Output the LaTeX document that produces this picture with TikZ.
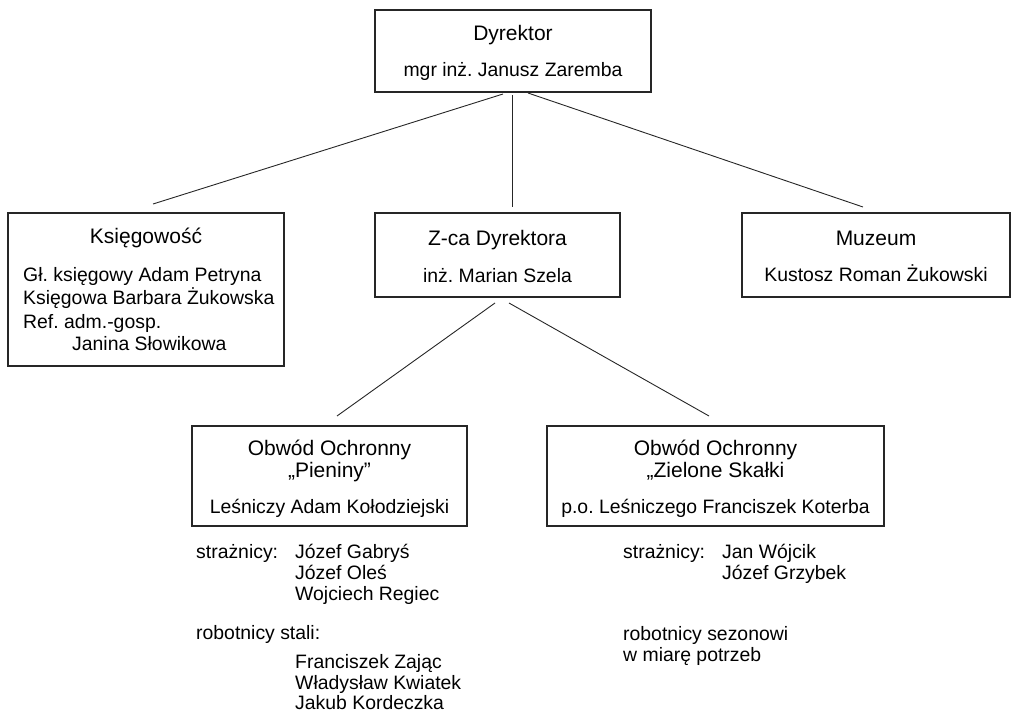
\documentclass[tikz,border=0pt]{standalone}
\usepackage{fontspec}
\setmainfont{Liberation Sans}
\frenchspacing
\begin{document}
\begin{tikzpicture}[x=1pt,y=-1pt,
  box/.style={draw=black!85, line width=1.2pt, rectangle, inner sep=0pt},
  conn/.style={draw=black!85, line width=0.9pt},
  txt/.style={inner sep=0pt, anchor=base, font=\fontsize{19.4}{22}\selectfont},
  head/.style={txt, font=\fontsize{21}{24}\selectfont},
  ltxt/.style={txt, anchor=base west}]
\useasboundingbox (0,0) rectangle (1011,712);

% boxes
\node[box, minimum width=276pt, minimum height=82pt] (dir) at (513,51) {};
\node[box, minimum width=276pt, minimum height=153pt] (ksi) at (146,289.5) {};
\node[box, minimum width=245pt, minimum height=84pt] (zca) at (497.5,255) {};
\node[box, minimum width=268pt, minimum height=84pt] (muz) at (876,255) {};
\node[box, minimum width=275pt, minimum height=100pt] (pie) at (329.5,476) {};
\node[box, minimum width=337pt, minimum height=100pt] (zie) at (715.5,476) {};

% connector end points
\coordinate (d1) at (503,94);  \coordinate (k1) at (153,204);
\coordinate (d2) at (512,95);  \coordinate (z1) at (512,207);
\coordinate (d3) at (528,93);  \coordinate (m1) at (863,207);
\coordinate (z2) at (495,303); \coordinate (p1) at (337,416);
\coordinate (z3) at (509,303); \coordinate (o1) at (709,416);
\draw[conn] (d1) -- (k1);
\draw[conn] (d2) -- (z1);
\draw[conn] (d3) -- (m1);
\draw[conn] (z2) -- (p1);
\draw[conn] (z3) -- (o1);

% director
\node[head] (dirt1) at (513,40) {Dyrektor};
\node[txt] (dirt2) at (513,76) {mgr inż. Janusz Zaremba};

% ksiegowosc
\node[head] (ksit1) at (146,243) {Księgowość};
\node[ltxt] (ksit2) at (23,281) {Gł. księgowy Adam Petryna};
\node[ltxt] (ksit3) at (23,304) {Księgowa Barbara Żukowska};
\node[ltxt] (ksit4) at (23,328) {Ref. adm.-gosp.};
\node[ltxt] (ksit5) at (72,350) {Janina Słowikowa};

% zca
\node[head] (zcat1) at (497.5,245) {Z-ca Dyrektora};
\node[txt] (zcat2) at (497.5,282) {inż. Marian Szela};

% muzeum
\node[head] (muzt1) at (876,245) {Muzeum};
\node[txt] (muzt2) at (876,281) {Kustosz Roman Żukowski};

% pieniny
\node[head] (piet1) at (329.5,455) {Obwód Ochronny};
\node[head] (piet2) at (329.5,477) {„Pieniny”};
\node[txt] (piet3) at (329.5,513) {Leśniczy Adam Kołodziejski};

% zielone
\node[head] (ziet1) at (715.5,455) {Obwód Ochronny};
\node[head] (ziet2) at (715.5,477) {„Zielone Skałki};
\node[txt] (ziet3) at (715.5,513) {p.o. Leśniczego Franciszek Koterba};

% below pieniny
\node[ltxt] (ps) at (196,558) {strażnicy:};
\node[ltxt] (ps1) at (295,558) {Józef Gabryś};
\node[ltxt] (ps2) at (295,579) {Józef Oleś};
\node[ltxt] (ps3) at (295,600) {Wojciech Regiec};
\node[ltxt] (pr) at (196,639) {robotnicy stali:};
\node[ltxt] (pr1) at (295,668) {Franciszek Zając};
\node[ltxt] (pr2) at (295,689) {Władysław Kwiatek};
\node[ltxt] (pr3) at (295,709) {Jakub Kordeczka};

% below zielone
\node[ltxt] (zs) at (623,558) {strażnicy:};
\node[ltxt] (zs1) at (722,558) {Jan Wójcik};
\node[ltxt] (zs2) at (722,579) {Józef Grzybek};
\node[ltxt] (zr1) at (623,640) {robotnicy sezonowi};
\node[ltxt] (zr2) at (623,661) {w miarę potrzeb};
\end{tikzpicture}
\end{document}
